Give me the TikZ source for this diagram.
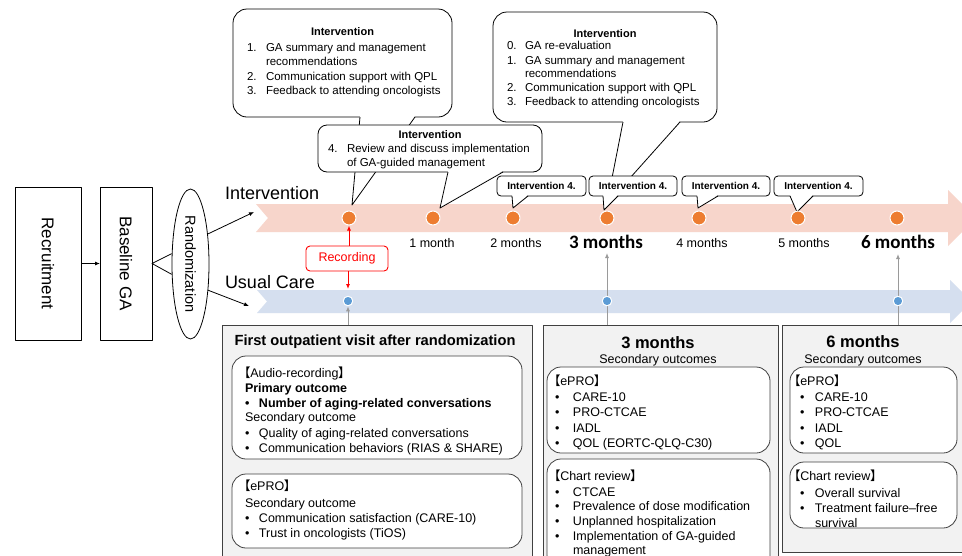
\documentclass[tikz,border=0pt]{standalone}
\usepackage{fontspec}
\setmainfont{Liberation Sans}
\newfontfamily\cjkf[RawFeature=+palt]{Noto Sans CJK JP}
\newfontfamily\calibf{Carlito}
\usetikzlibrary{arrows.meta,shapes.geometric}
\definecolor{pinkband}{HTML}{F7D5CB}
\definecolor{blueband}{HTML}{D5DFEF}
\definecolor{odot}{HTML}{ED7D31}
\definecolor{bdot}{HTML}{5B9BD5}
\definecolor{boxgray}{HTML}{F2F2F2}
\definecolor{edgegray}{HTML}{404040}
\definecolor{arrgray}{HTML}{9A9A9A}
\definecolor{recred}{HTML}{FF0000}
\newcommand\fsz[1]{\fontsize{#1}{#1}\selectfont}
\newcommand\lbr{{\cjkf 【}}
\newcommand\rbr{{\cjkf 】}}
\newcommand\bl[2]{\makebox[#1][l]{•}#2}
\newcommand\mytail[4]{%
  \fill[white] (#1,#3-1.2) -- (#4) -- (#2,#3-1.2) -- cycle;
  \draw[line width=0.8pt] (#1,#3) -- (#4) -- (#2,#3);}
\tikzset{
  lbl/.style={inner sep=0pt, outer sep=0pt, font=\fsz{12.5}},
  tl/.style={lbl, anchor=base west},
  tc/.style={lbl, anchor=base},
  ct/.style={tl, font=\fsz{11.5}},
  cth/.style={tc, font=\bfseries\fsz{11}},
  plainbox/.style={draw, line width=0.8pt, inner sep=0pt, outer sep=0pt},
  callout/.style={draw, fill=white, line width=0.8pt, rounded corners=14pt, inner sep=0pt, outer sep=0pt},
  smallcall/.style={draw, fill=white, line width=0.8pt, rounded corners=4pt, inner sep=0pt, outer sep=0pt, minimum height=20pt, font=\bfseries\fsz{10}},
  graybox/.style={draw=edgegray, fill=boxgray, line width=0.8pt, inner sep=0pt, outer sep=0pt, anchor=north west},
  innerbox/.style={draw=edgegray, fill=white, line width=0.8pt, rounded corners=14pt, inner sep=0pt, outer sep=0pt, anchor=north west},
  odotst/.style={circle, fill=odot, draw=white, line width=1pt, minimum size=14pt, inner sep=0pt},
  bdotst/.style={circle, fill=bdot, draw=white, line width=1pt, minimum size=9.5pt, inner sep=0pt},
  barrow/.style={line width=0.8pt, -{Latex[length=5pt,width=4pt]}},
  garrow/.style={draw=arrgray, line width=0.9pt, -{Latex[length=5pt,width=4pt]}},
  rarrow/.style={draw=recred, line width=0.9pt, -{Latex[length=5pt,width=4pt]}},
  recst/.style={draw=recred, text=recred, fill=white, line width=0.9pt, rounded corners=4pt, minimum width=82pt, minimum height=25pt, inner sep=0pt, font=\fsz{12.5}},
}
\begin{document}
\begin{tikzpicture}[x=1pt,y=-1pt,line join=round]
\path[use as bounding box, fill=white] (0,0) rectangle (962,555);
\clip (0,0) rectangle (962,555);

% ---------- left part
\node[plainbox, minimum width=66pt, minimum height=153pt] (rec) at (48,263.5) {\rotatebox{-90}{\fsz{17}Recruitment}};
\node[plainbox, minimum width=52pt, minimum height=153pt] (bga) at (126,263.5) {\rotatebox{-90}{\fsz{17}Baseline GA}};
\node[draw, ellipse, line width=0.8pt, minimum width=37pt, minimum height=150pt, inner sep=0pt] (rand) at (190.5,264) {\rotatebox{-90}{\fsz{14.5}Randomization}};
\draw[barrow] (rec.east) -- (bga.west);
\draw[line width=0.8pt] (rand.151) -- (bga.east) -- (rand.209);
\coordinate (ia) at (254,212);
\coordinate (ua) at (249,306);
\draw[barrow] (rand.60) -- (ia);
\draw[barrow] (rand.-56) -- (ua);

\node[tl, font=\fsz{18}] (lint) at (225,199.5) {Intervention};
\node[tl, font=\fsz{18}] (luc) at (225,288) {Usual Care};

% ---------- bands
\fill[pinkband] (256,204) -- (948,204) -- (948,190) -- (976,218) -- (948,246) -- (948,232) -- (256,232) -- (268,218) -- cycle;
\fill[blueband] (257,290) -- (950,290) -- (950,280) -- (971.5,301.5) -- (950,323) -- (950,313) -- (257,313) -- (267,301.5) -- cycle;

% ---------- bottom boxes
\node[graybox, minimum width=310pt, minimum height=240pt] (boxA) at (222,325) {};
\node[graybox, minimum width=235pt, minimum height=240pt] (boxB) at (543,325) {};
\node[graybox, minimum width=200pt, minimum height=227pt] (boxC) at (782,325) {};
\node[innerbox, minimum width=290pt, minimum height=103pt] (ia1) at (232,356) {};
\node[innerbox, minimum width=290pt, minimum height=74pt] (ia2) at (232,474) {};
\node[innerbox, minimum width=223pt, minimum height=86pt] (ib1) at (547,367) {};
\node[innerbox, minimum width=223pt, minimum height=110pt] (ib2) at (547,459) {};
\node[innerbox, minimum width=167pt, minimum height=86pt] (ic1) at (790,367) {};
\node[innerbox, minimum width=167pt, minimum height=66pt] (ic2) at (790,462) {};

% ---------- callouts
\node[callout, minimum width=219pt, minimum height=108pt] (c1) at (342.5,63) {};
\coordinate (tip1) at (352,205);
\mytail{360}{415}{117}{tip1}
\node[callout, rounded corners=9pt, minimum width=224pt, minimum height=47pt] (c2) at (430,148.5) {};
\coordinate (tip2) at (440,208);
\mytail{448}{503}{172}{tip2}
\node[callout, minimum width=224pt, minimum height=110pt] (c3) at (605,67) {};
\coordinate (t3a) at (612,178);
\coordinate (t3b) at (630,178);
\fill[white] (623,120.8) -- (t3a) -- (t3b) -- (680,120.8) -- cycle;
\draw[line width=0.8pt] (623,122) -- (t3a);
\draw[line width=0.8pt] (680,122) -- (t3b);

\node[smallcall, minimum width=89pt] (s1) at (541.5,186) {};
\coordinate (ts1) at (513,208);
\mytail{512}{528}{196}{ts1}
\node[smallcall, minimum width=88pt] (s2) at (633,186) {};
\coordinate (ts2) at (604,210);
\mytail{603}{618}{196}{ts2}
\node[smallcall, minimum width=88pt] (s3) at (726,186) {};
\coordinate (ts3) at (698,208);
\mytail{697}{718}{196}{ts3}
\node[smallcall, minimum width=89pt] (s4) at (818.5,186) {};
\coordinate (ts4) at (797,212);
\mytail{790}{813}{196}{ts4}

% ---------- dots
\node[odotst] (o0) at (349,218) {};
\node[odotst] (o1) at (433,218) {};
\node[odotst] (o2) at (513,218) {};
\node[odotst] (o3) at (607,218) {};
\node[odotst] (o4) at (699,218) {};
\node[odotst] (o5) at (798,218) {};
\node[odotst] (o6) at (897,218) {};

\coordinate (g3) at (607,253);
\coordinate (g6) at (898,254);
\node[bdotst] (b0) at (348,301) {};
\draw[garrow] (boxA.north -| b0) -- (b0.south);
\draw[garrow] (boxB.north -| g3) -- (g3);
\draw[garrow] (boxC.north -| g6) -- (g6);
\node[bdotst] (b1) at (607,301) {};
\node[bdotst] (b2) at (898,301) {};

% recording
\node[recst] (recd) at (347,258.5) {Recording};
\coordinate (rb) at (348,289);
\draw[rarrow] (recd.north -| o0) -- (o0.south);
\draw[rarrow] (recd.south -| rb) -- (rb);

% month labels
\node[tc] (m1) at (432,247.5) {1 month};
\node[tc] (m2) at (516,247.5) {2 months};
\node[tc, font=\calibf\bfseries\fsz{19}] (m3) at (606,248.5) {3 months};
\node[tc] (m4) at (702,247.5) {4 months};
\node[tc] (m5) at (804,247) {5 months};
\node[tc, font=\calibf\bfseries\fsz{19}] (m6) at (898,248.5) {6 months};

% ---------- callout texts
\node[cth] (c1h) at (342.5,35) {Intervention};
\node[ct] (c1n1) at (247,51) {1.};
\node[ct] (c1a) at (266,51) {GA summary and management};
\node[ct] (c1b) at (266,65.5) {recommendations};
\node[ct] (c1n2) at (247,80) {2.};
\node[ct] (c1c) at (266,80) {Communication support with QPL};
\node[ct] (c1n3) at (247,94.5) {3.};
\node[ct] (c1d) at (266,94.5) {Feedback to attending oncologists};

\node[cth] (c2h) at (430,138.7) {Intervention};
\node[ct] (c2n) at (328,152.7) {4.};
\node[ct] (c2a) at (347,152.7) {Review and discuss implementation};
\node[ct] (c2b) at (347,166.7) {of GA-guided management};

\node[cth] (c3h) at (605,37) {Intervention};
\node[ct] (c3n0) at (507,49.7) {0.};
\node[ct] (c3a) at (525,49.7) {GA re-evaluation};
\node[ct] (c3n1) at (507,64.7) {1.};
\node[ct] (c3b) at (525,64.7) {GA summary and management};
\node[ct] (c3c) at (525,77.7) {recommendations};
\node[ct] (c3n2) at (507,91.7) {2.};
\node[ct] (c3d) at (525,91.7) {Communication support with QPL};
\node[ct] (c3n3) at (507,105.7) {3.};
\node[ct] (c3e) at (525,105.7) {Feedback to attending oncologists};

\node[tc, font=\bfseries\fsz{10}] (s1t) at (541.5,189.6) {Intervention 4.};
\node[tc, font=\bfseries\fsz{10}] (s2t) at (633,189.6) {Intervention 4.};
\node[tc, font=\bfseries\fsz{10}] (s3t) at (726,189.6) {Intervention 4.};
\node[tc, font=\bfseries\fsz{10}] (s4t) at (818.5,189.6) {Intervention 4.};

% ---------- box A texts
\node[tc, font=\bfseries\fsz{14.7}] (aT) at (375,345) {First outpatient visit after randomization};
\node[tl] (a1) at (244,377) {\lbr Audio-recording\rbr};
\node[tl, font=\bfseries\fsz{12.5}] (a2) at (245,392) {Primary outcome};
\node[tl, font=\bfseries\fsz{12.5}] (a3) at (245,407) {\bl{14pt}{Number of aging-related conversations}};
\node[tl] (a4) at (245,421) {Secondary outcome};
\node[tl] (a5) at (245,437) {\bl{14pt}{Quality of aging-related conversations}};
\node[tl] (a6) at (245,452) {\bl{14pt}{Communication behaviors (RIAS \& SHARE)}};
\node[tl] (a7) at (244,490) {\lbr ePRO\rbr};
\node[tl] (a8) at (245,507) {Secondary outcome};
\node[tl] (a9) at (245,522) {\bl{14pt}{Communication satisfaction (CARE-10)}};
\node[tl] (a10) at (245,537) {\bl{14pt}{Trust in oncologists (TiOS)}};

% ---------- box B texts
\node[tc, font=\bfseries\fsz{16.5}] (bT) at (658,348) {3 months};
\node[tc] (bS) at (658,363) {Secondary outcomes};
\node[tl] (b1) at (554,385.5) {\lbr ePRO\rbr};
\node[tl] (b2) at (555,401) {\bl{18pt}{CARE-10}};
\node[tl] (b3) at (555,416.5) {\bl{18pt}{PRO-CTCAE}};
\node[tl] (b4) at (555,432) {\bl{18pt}{IADL}};
\node[tl] (b5) at (555,447.5) {\bl{18pt}{QOL (EORTC-QLQ-C30)}};
\node[tl] (b6) at (554,480) {\lbr Chart review\rbr};
\node[tl] (b7) at (555,496) {\bl{18pt}{CTCAE}};
\node[tl] (b8) at (555,510.5) {\bl{18pt}{Prevalence of dose modification}};
\node[tl] (b9) at (555,525.5) {\bl{18pt}{Unplanned hospitalization}};
\node[tl] (b10) at (555,540.5) {\bl{18pt}{Implementation of GA-guided}};
\node[tl] (b11) at (573,554.5) {management};

% ---------- box C texts
\node[tc, font=\bfseries\fsz{16.5}] (cT) at (863,347) {6 months};
\node[tc] (cS) at (863,363) {Secondary outcomes};
\node[tl] (d1) at (794,385.5) {\lbr ePRO\rbr};
\node[tl] (d2) at (800,401) {\bl{15pt}{CARE-10}};
\node[tl] (d3) at (800,416.5) {\bl{15pt}{PRO-CTCAE}};
\node[tl] (d4) at (800,432) {\bl{15pt}{IADL}};
\node[tl] (d5) at (800,447.5) {\bl{15pt}{QOL}};
\node[tl] (d6) at (794,480) {\lbr Chart review\rbr};
\node[tl] (d7) at (800,497) {\bl{15pt}{Overall survival}};
\node[tl] (d8) at (800,512) {\bl{15pt}{Treatment failure–free}};
\node[tl] (d9) at (815,527) {survival};
\end{tikzpicture}
\end{document}
